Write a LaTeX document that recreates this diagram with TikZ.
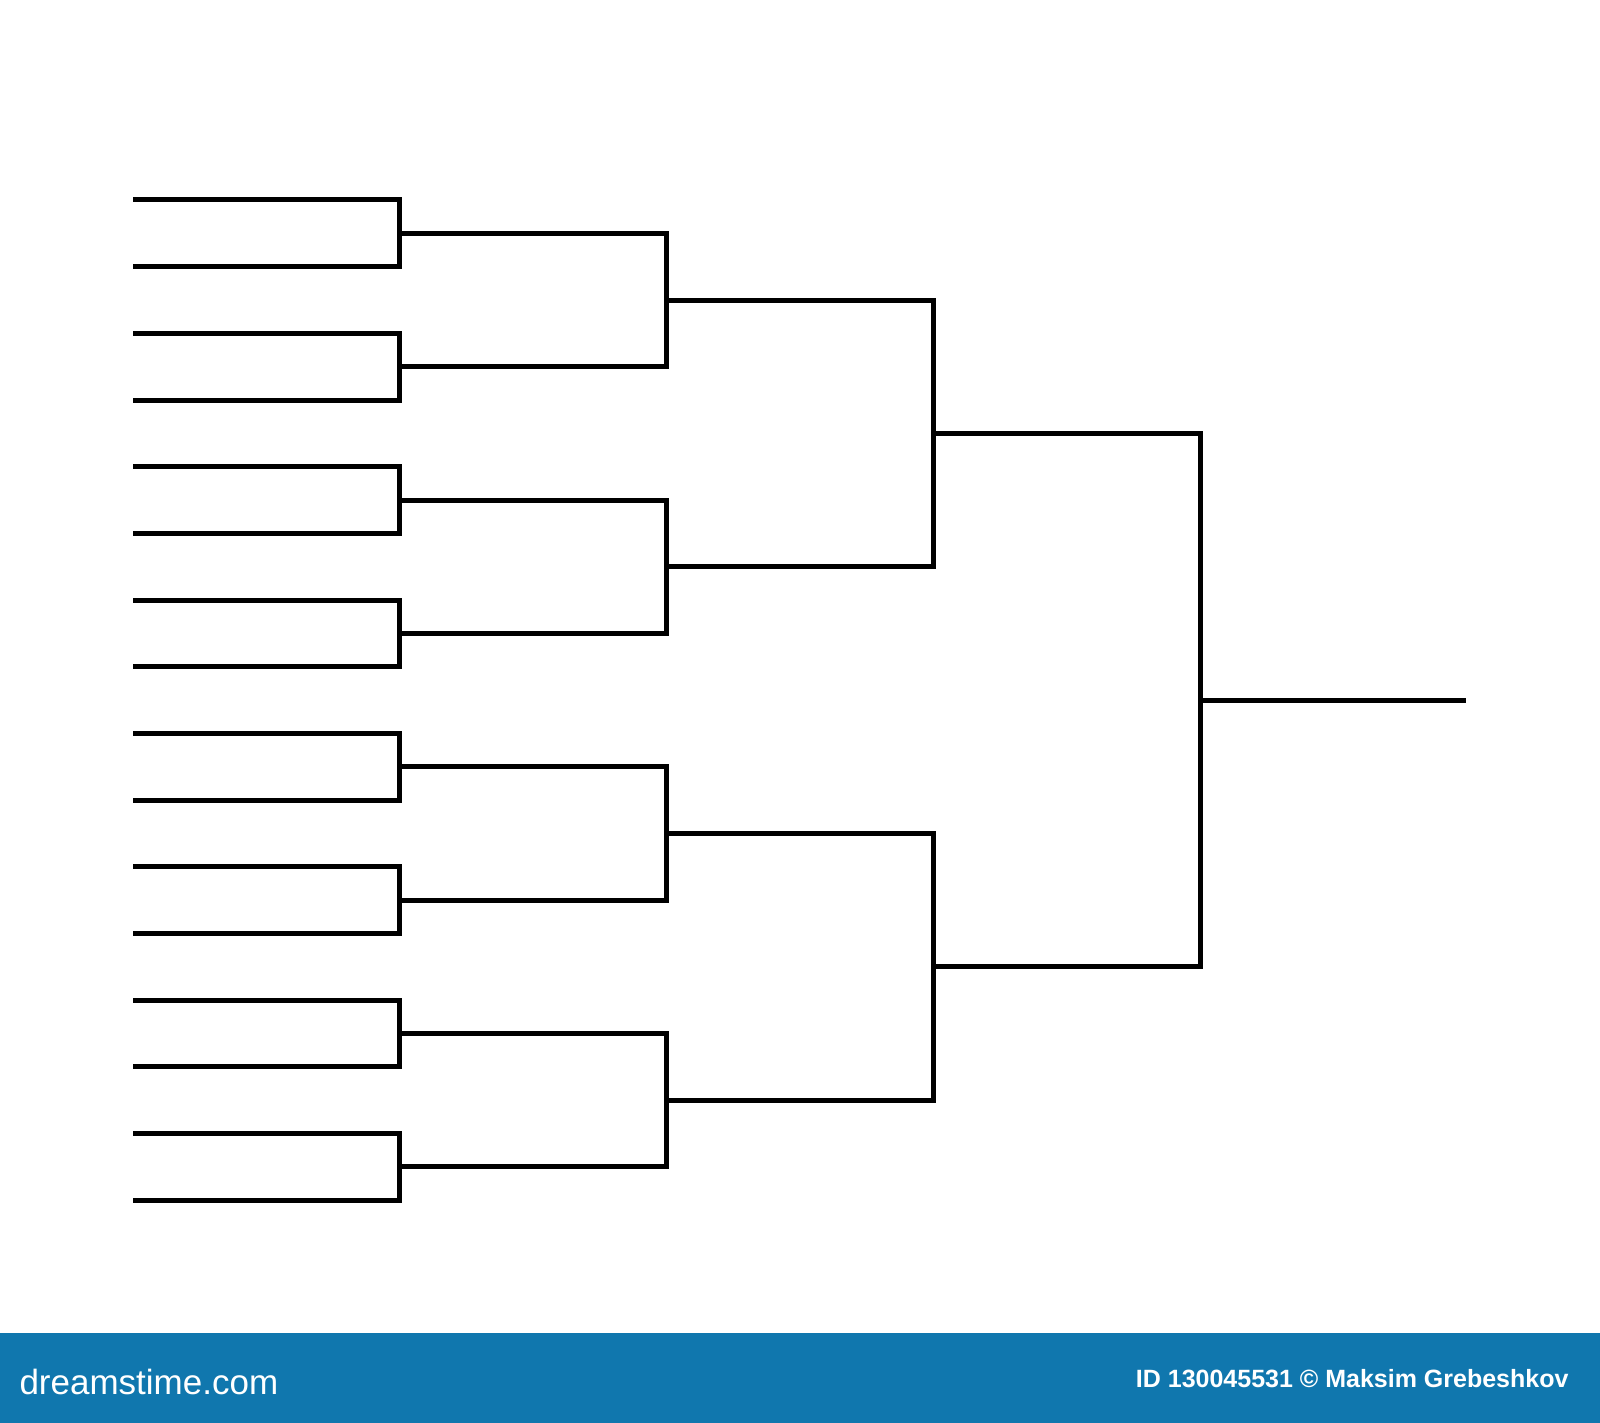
\documentclass[tikz,border=0pt]{standalone}
\usepackage{fontspec}
\setmainfont{Liberation Sans}
\usepackage{tikz}
\usetikzlibrary{trees}

\definecolor{footerblue}{RGB}{16,119,174}

\begin{document}
\begin{tikzpicture}
[x=1pt, y=-1pt,
grow=left, level distance=266.67pt,
every node/.style = {coordinate},
edge from parent/.style = {draw, line width=5pt},
edge from parent path = {(\tikzparentnode) |- (\tikzchildnode)},
level 1/.style={sibling distance=533.33pt},
level 2/.style={sibling distance=266.67pt},
level 3/.style={sibling distance=133.33pt},
level 4/.style={sibling distance=66.67pt},
]
\useasboundingbox (0,0) rectangle (1600,1423);

% bracket: final on the right, 16 entries on the left
\path (1200,700) node (final) {}
child foreach \semi in {1,2} {node {}
	child foreach \quarter in {1,2} {node {}
		child foreach \eighth in {1,2} {node {}
			child foreach \entry in {1,2} {node {}}}}};
\coordinate (winner) at (1466,700);
\draw[line width=5pt] (final) -- (winner);

% footer
\fill[footerblue] (0,1333) rectangle (1600,1423);
\node[shape=rectangle, anchor=west, text=white, font=\fontsize{35}{35}\selectfont]
	(site) at (16,1382) {dreamstime.com};
\node[shape=rectangle, anchor=east, text=white, font=\bfseries\fontsize{25}{25}\selectfont]
	(credit) at (1572,1379) {ID 130045531 © Maksim Grebeshkov};

\end{tikzpicture}
\end{document}
